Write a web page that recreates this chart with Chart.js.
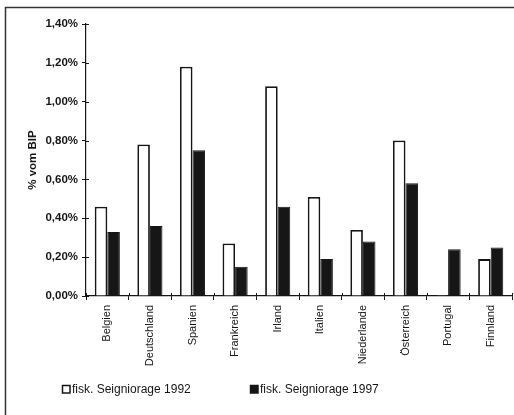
<!DOCTYPE html>
<html>
<head>
<meta charset="utf-8">
<style>
  html, body { margin: 0; padding: 0; background: #fff; }
  #wrap { width: 514px; height: 415px; }
</style>
<script src="https://cdn.jsdelivr.net/npm/chart.js@4/dist/chart.umd.min.js"></script>
</head>
<body>
<div id="wrap"><canvas id="c" width="514" height="415"></canvas></div>
<script>
// Fiscal seigniorage in percent of GDP, by country
const countries = ['Belgien', 'Deutschland', 'Spanien', 'Frankreich', 'Irland', 'Italien', 'Niederlande', 'Österreich', 'Portugal', 'Finnland'];
const seigniorage1992 = [0.46, 0.78, 1.18, 0.27, 1.08, 0.51, 0.34, 0.80, 0.005, 0.19];
const seigniorage1997 = [0.33, 0.36, 0.75, 0.15, 0.46, 0.19, 0.28, 0.58, 0.24, 0.25];
const yTicks = [0, 0.2, 0.4, 0.6, 0.8, 1.0, 1.2, 1.4];
const seriesLabels = ['fisk. Seigniorage 1992', 'fisk. Seigniorage 1997'];

const FONT = '"Liberation Sans", Arial, sans-serif';
const INK = '#161616';

// Frame lines, ticks crossing the axes and the legend row underneath
const decorations = {
  id: 'decorations',
  beforeDraw(chart) {
    const ctx = chart.ctx;
    ctx.save();
    ctx.fillStyle = '#fff';
    ctx.fillRect(0, 0, chart.width, chart.height);
    ctx.strokeStyle = '#333';
    ctx.lineWidth = 1.5;
    ctx.beginPath();
    ctx.moveTo(5.5, chart.height);
    ctx.lineTo(5.5, 7.5);
    ctx.lineTo(chart.width, 7.5);
    ctx.stroke();
    ctx.restore();
  },
  afterDraw(chart, args, opts) {
    const ctx = chart.ctx;
    const area = chart.chartArea;
    const xs = chart.scales.x, ys = chart.scales.y;
    ctx.save();
    ctx.strokeStyle = INK;
    ctx.lineWidth = 1;
    ctx.beginPath();
    ys.ticks.forEach(t => {
      const y = Math.round(ys.getPixelForValue(t.value)) + 0.5;
      ctx.moveTo(area.left, y);
      ctx.lineTo(area.left + 3, y);
    });
    for (let i = 0; i <= countries.length; i++) {
      const x = Math.round(xs.getPixelForValue(i - 0.5)) + 0.5;
      ctx.moveTo(x, area.bottom);
      ctx.lineTo(x, area.bottom - 3);
    }
    ctx.stroke();

    // legend
    ctx.font = '12px ' + FONT;
    ctx.textBaseline = 'middle';
    chart.data.datasets.forEach((ds, i) => {
      const x = opts.positions[i];
      const y = opts.y;
      ctx.fillStyle = ds.backgroundColor;
      ctx.fillRect(x, y - 4, 8, 8);
      ctx.strokeStyle = INK;
      ctx.lineWidth = 1.5;
      ctx.strokeRect(x + 0.5, y - 3.5, 7.5, 7.5);
      ctx.fillStyle = INK;
      ctx.fillText(ds.label, x + 10, y + 1);
    });
    ctx.restore();
  }
};

new Chart(document.getElementById('c'), {
  type: 'bar',
  data: {
    labels: countries,
    datasets: [
      {
        label: seriesLabels[0],
        data: seigniorage1992,
        backgroundColor: '#ffffff',
        borderColor: INK,
        borderWidth: 1.8,
        categoryPercentage: 0.59,
        barPercentage: 1.0
      },
      {
        label: seriesLabels[1],
        data: seigniorage1997,
        backgroundColor: INK,
        borderColor: INK,
        borderWidth: 1,
        categoryPercentage: 0.59,
        barPercentage: 1.0
      }
    ]
  },
  options: {
    responsive: false,
    animation: false,
    events: [],
    layout: { padding: { top: 24, right: 2, left: 0, bottom: 0 } },
    plugins: {
      legend: { display: false },
      tooltip: { enabled: false },
      decorations: { positions: [62, 250], y: 389 }
    },
    scales: {
      x: {
        offset: true,
        grid: { offset: true, drawOnChartArea: false, drawTicks: true, tickLength: 4, color: INK, lineWidth: 1 },
        border: { display: true, color: INK, width: 1.2 },
        ticks: {
          autoSkip: false,
          minRotation: 90,
          maxRotation: 90,
          padding: 5,
          color: INK,
          font: { family: FONT, size: 11 }
        },
        afterFit(scale) { scale.height = 119; }
      },
      y: {
        min: 0,
        max: 1.4,
        afterBuildTicks(scale) { scale.ticks = yTicks.map(v => ({ value: v })); },
        grid: { drawOnChartArea: false, drawTicks: true, tickLength: 4, color: INK, lineWidth: 1 },
        border: { display: true, color: INK, width: 1.2 },
        ticks: {
          padding: 4,
          color: INK,
          font: { family: FONT, size: 11.5, weight: 'bold' },
          callback: v => v.toFixed(2).replace('.', ',') + '%'
        },
        title: {
          display: true,
          text: '% vom BIP',
          color: INK,
          padding: { top: 26, bottom: 0 },
          font: { family: FONT, size: 11.5, weight: 'bold' }
        },
        afterFit(scale) { scale.width = 86; }
      }
    }
  },
  plugins: [decorations]
});
</script>
</body>
</html>
